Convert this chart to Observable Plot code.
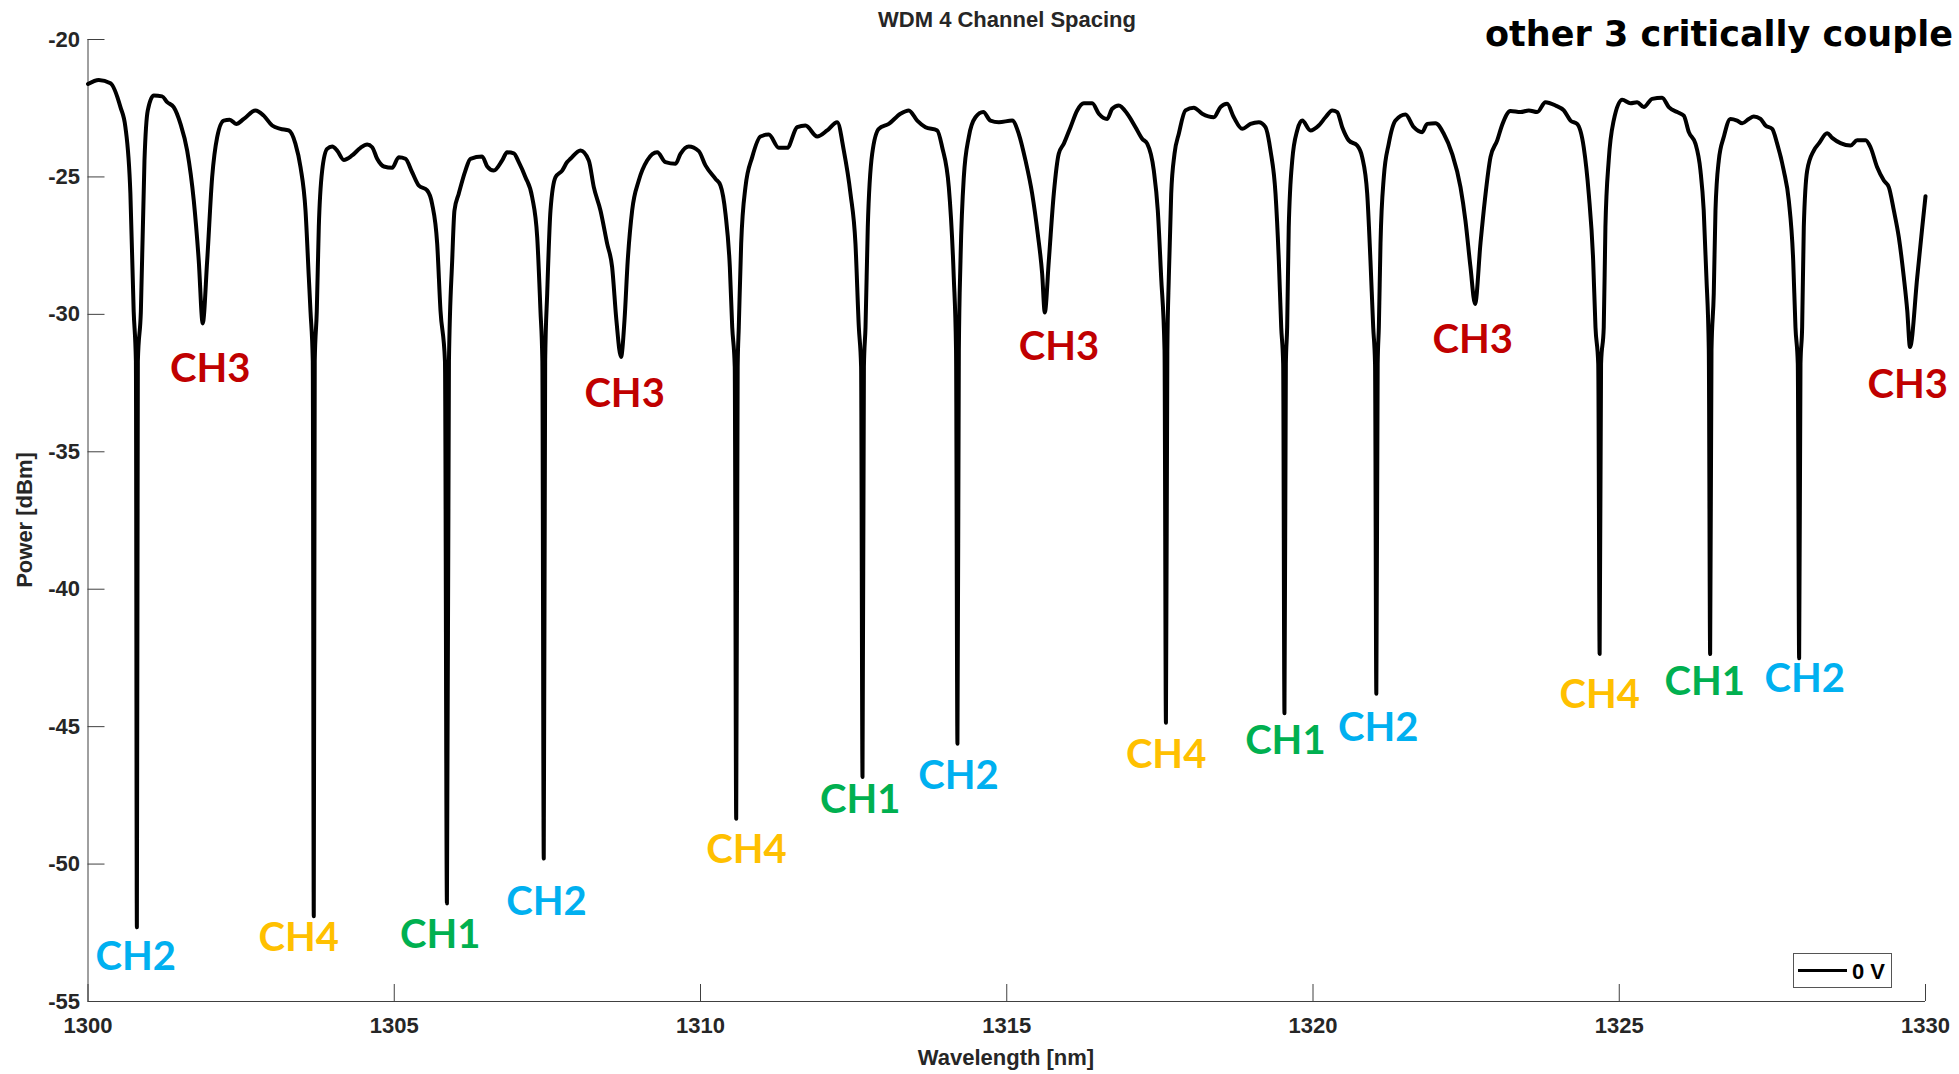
<!DOCTYPE html>
<html><head><meta charset="utf-8">
<script src="https://cdn.jsdelivr.net/npm/d3@7"></script>
<script src="https://cdn.jsdelivr.net/npm/@observablehq/plot@0.6"></script>
<style>
html,body{margin:0;padding:0;background:#fff;overflow:hidden;}
#wrap{position:relative;width:1959px;height:1074px;overflow:hidden;}
#chart{position:absolute;left:0;top:0;}
.t{position:absolute;white-space:nowrap;font-family:"Liberation Sans",Arial,sans-serif;font-weight:bold;color:#262626;line-height:1;}
#chart svg g[aria-label$="tick label"] text{font-size:22px;font-weight:bold;fill:#262626;}
</style></head><body>
<div id="wrap">
  <div id="chart"></div>
  <div class="t" style="left:1007px;top:8.5px;transform:translateX(-50%);font-size:22px;">WDM 4 Channel Spacing</div>
  <div class="t" style="left:1006px;top:1047px;transform:translateX(-50%);font-size:22px;">Wavelength [nm]</div>
  <div class="t" style="left:25px;top:520px;transform:translate(-50%,-50%) rotate(-90deg);font-size:22px;">Power [dBm]</div>
  <div class="t" style="left:1485px;top:17px;font-family:'DejaVu Sans',sans-serif;font-size:35px;color:#000;">other 3 critically couple</div>
  <div style="position:absolute;left:1793px;top:953px;width:97px;height:33px;border:1px solid #555;background:#fff;"></div>
  <div style="position:absolute;left:1798px;top:968.5px;width:49px;height:3.5px;background:#000;"></div>
  <div class="t" style="left:1852px;top:960.5px;font-size:22px;color:#000;">0 V</div>
</div>
<script>
// Measured transmission spectrum: [wavelength nm, power dBm]
const spectrum = [
[1300.000,-21.62],[1300.176,-21.47],[1300.367,-21.59],[1300.530,-22.46],[1300.611,-23.19],[1300.692,-25.60],[1300.746,-29.90],[1300.782,-31.70],[1300.798,-52.30],[1300.814,-31.70],[1300.863,-29.90],[1300.922,-24.40],[1300.976,-22.58],[1301.074,-22.04],[1301.210,-22.07],[1301.292,-22.28],[1301.399,-22.46],[1301.510,-23.07],[1301.619,-24.04],[1301.727,-25.86],[1301.808,-28.04],[1301.873,-30.33],[1301.946,-28.04],[1302.027,-25.01],[1302.109,-23.55],[1302.216,-22.95],[1302.314,-22.92],[1302.420,-23.07],[1302.544,-22.89],[1302.734,-22.58],[1302.869,-22.77],[1303.007,-23.13],[1303.142,-23.25],[1303.277,-23.31],[1303.386,-23.79],[1303.470,-24.65],[1303.551,-26.22],[1303.605,-28.65],[1303.633,-29.90],[1303.670,-31.70],[1303.686,-51.90],[1303.702,-31.70],[1303.735,-29.90],[1303.768,-26.83],[1303.823,-24.77],[1303.904,-23.98],[1303.987,-23.89],[1304.068,-24.04],[1304.176,-24.38],[1304.312,-24.22],[1304.449,-23.94],[1304.558,-23.82],[1304.640,-23.92],[1304.721,-24.34],[1304.830,-24.62],[1304.966,-24.67],[1305.074,-24.28],[1305.183,-24.34],[1305.292,-24.83],[1305.400,-25.31],[1305.537,-25.49],[1305.618,-25.98],[1305.701,-27.43],[1305.755,-29.86],[1305.828,-31.70],[1305.860,-51.43],[1305.893,-31.70],[1305.946,-28.04],[1305.983,-26.22],[1306.053,-25.61],[1306.162,-24.77],[1306.244,-24.34],[1306.435,-24.26],[1306.518,-24.62],[1306.625,-24.77],[1306.762,-24.40],[1306.843,-24.10],[1306.952,-24.14],[1307.033,-24.46],[1307.142,-25.01],[1307.252,-25.74],[1307.334,-27.19],[1307.387,-29.86],[1307.418,-31.70],[1307.441,-49.80],[1307.464,-31.70],[1307.497,-29.25],[1307.551,-26.22],[1307.633,-25.01],[1307.742,-24.77],[1307.823,-24.46],[1307.877,-24.34],[1308.040,-24.04],[1308.176,-24.40],[1308.258,-25.37],[1308.367,-26.22],[1308.476,-27.43],[1308.557,-28.28],[1308.627,-30.22],[1308.702,-31.55],[1308.759,-30.22],[1308.812,-28.04],[1308.884,-26.22],[1308.992,-25.13],[1309.129,-24.40],[1309.293,-24.10],[1309.428,-24.46],[1309.592,-24.52],[1309.673,-24.16],[1309.808,-23.89],[1309.972,-24.06],[1310.081,-24.58],[1310.245,-25.07],[1310.326,-25.31],[1310.408,-26.34],[1310.479,-28.28],[1310.518,-30.47],[1310.559,-31.90],[1310.583,-48.35],[1310.607,-31.90],[1310.625,-30.47],[1310.664,-27.43],[1310.734,-25.37],[1310.844,-24.28],[1310.979,-23.53],[1311.115,-23.46],[1311.278,-23.94],[1311.415,-23.94],[1311.579,-23.19],[1311.714,-23.13],[1311.905,-23.53],[1312.068,-23.31],[1312.232,-23.01],[1312.340,-24.04],[1312.449,-25.61],[1312.530,-27.43],[1312.585,-30.47],[1312.622,-31.90],[1312.645,-46.83],[1312.668,-31.90],[1312.694,-30.47],[1312.731,-26.83],[1312.803,-24.16],[1312.911,-23.25],[1313.074,-23.07],[1313.265,-22.70],[1313.401,-22.58],[1313.538,-22.95],[1313.673,-23.19],[1313.865,-23.31],[1313.946,-23.92],[1314.054,-25.37],[1314.135,-28.65],[1314.172,-31.30],[1314.195,-45.62],[1314.218,-31.30],[1314.245,-28.04],[1314.299,-25.01],[1314.380,-23.55],[1314.489,-22.83],[1314.616,-22.64],[1314.734,-22.95],[1314.871,-23.01],[1315.089,-22.95],[1315.196,-23.43],[1315.306,-24.40],[1315.415,-25.61],[1315.506,-27.07],[1315.578,-28.52],[1315.621,-29.93],[1315.687,-28.04],[1315.768,-25.61],[1315.849,-24.16],[1315.932,-23.79],[1316.041,-23.19],[1316.150,-22.58],[1316.258,-22.32],[1316.395,-22.32],[1316.503,-22.70],[1316.640,-22.89],[1316.722,-22.52],[1316.829,-22.40],[1316.967,-22.70],[1317.102,-23.19],[1317.211,-23.61],[1317.293,-23.79],[1317.401,-24.77],[1317.466,-26.22],[1317.521,-28.65],[1317.576,-31.30],[1317.599,-44.86],[1317.622,-31.30],[1317.646,-28.65],[1317.685,-25.61],[1317.739,-24.16],[1317.809,-23.43],[1317.918,-22.58],[1318.054,-22.48],[1318.191,-22.70],[1318.380,-22.83],[1318.489,-22.46],[1318.598,-22.34],[1318.707,-22.83],[1318.844,-23.25],[1318.980,-23.07],[1319.115,-23.01],[1319.224,-23.19],[1319.306,-24.04],[1319.388,-25.61],[1319.442,-28.04],[1319.481,-30.47],[1319.513,-31.80],[1319.534,-44.51],[1319.557,-31.80],[1319.578,-30.47],[1319.604,-26.83],[1319.661,-24.40],[1319.742,-23.31],[1319.823,-22.95],[1319.959,-23.31],[1320.094,-23.13],[1320.204,-22.83],[1320.314,-22.58],[1320.395,-22.64],[1320.477,-23.19],[1320.584,-23.67],[1320.722,-23.86],[1320.803,-24.28],[1320.885,-25.61],[1320.938,-28.04],[1320.983,-30.47],[1321.013,-31.80],[1321.034,-43.80],[1321.056,-31.80],[1321.075,-30.47],[1321.102,-27.43],[1321.156,-25.01],[1321.237,-23.79],[1321.347,-22.95],[1321.510,-22.73],[1321.646,-23.19],[1321.782,-23.37],[1321.864,-23.07],[1322.000,-23.05],[1322.135,-23.43],[1322.272,-24.16],[1322.408,-25.37],[1322.489,-26.59],[1322.571,-28.28],[1322.646,-29.62],[1322.735,-27.40],[1322.808,-25.80],[1322.898,-24.28],[1323.008,-23.67],[1323.089,-23.10],[1323.224,-22.60],[1323.388,-22.64],[1323.523,-22.58],[1323.660,-22.64],[1323.796,-22.28],[1323.958,-22.40],[1324.095,-22.58],[1324.204,-22.95],[1324.312,-23.07],[1324.420,-23.92],[1324.502,-25.61],[1324.574,-28.04],[1324.612,-30.47],[1324.657,-31.80],[1324.680,-42.36],[1324.703,-31.80],[1324.747,-30.47],[1324.774,-26.83],[1324.828,-24.40],[1324.909,-22.95],[1325.048,-22.19],[1325.183,-22.32],[1325.292,-22.28],[1325.401,-22.46],[1325.537,-22.16],[1325.700,-22.12],[1325.809,-22.46],[1325.946,-22.64],[1326.054,-22.77],[1326.136,-23.37],[1326.244,-23.79],[1326.326,-24.77],[1326.379,-26.22],[1326.423,-28.65],[1326.462,-31.30],[1326.484,-42.36],[1326.506,-31.30],[1326.543,-29.25],[1326.571,-26.22],[1326.625,-24.40],[1326.706,-23.55],[1326.815,-22.89],[1326.924,-22.95],[1327.007,-23.05],[1327.115,-22.89],[1327.196,-22.80],[1327.306,-22.89],[1327.388,-23.13],[1327.497,-23.25],[1327.578,-23.79],[1327.686,-24.77],[1327.768,-25.86],[1327.840,-28.04],[1327.877,-30.47],[1327.915,-31.80],[1327.937,-42.51],[1327.959,-31.80],[1327.986,-30.47],[1328.013,-26.83],[1328.068,-24.77],[1328.176,-24.04],[1328.257,-23.79],[1328.395,-23.41],[1328.476,-23.58],[1328.612,-23.77],[1328.775,-23.86],[1328.884,-23.67],[1329.021,-23.67],[1329.102,-23.92],[1329.211,-24.65],[1329.320,-25.13],[1329.401,-25.37],[1329.483,-26.22],[1329.564,-27.19],[1329.646,-28.65],[1329.702,-29.86],[1329.747,-31.19],[1329.865,-28.65],[1329.947,-26.83],[1330.000,-25.70]
];

// Resonance annotations
const labelChannel = ["CH2","CH3","CH4","CH1","CH2","CH3","CH4","CH1","CH2","CH3","CH4","CH1","CH2","CH3","CH4","CH1","CH2","CH3"];
const labelWavelength = [1300.780,1301.997,1303.440,1305.750,1307.486,1308.761,1310.751,1312.609,1314.213,1315.854,1317.602,1319.549,1321.065,1322.609,1324.682,1326.396,1328.029,1329.709];
const labelPower = [-53.40,-31.98,-52.68,-52.57,-51.38,-32.89,-49.49,-47.67,-46.79,-31.19,-46.03,-45.54,-45.04,-30.95,-43.87,-43.39,-43.27,-32.59];

const channels = ["CH1","CH2","CH3","CH4"];
const channelColors = ["#00b050","#00b0f0","#c00000","#ffc000"];

const xTicks = [1300,1305,1310,1315,1320,1325,1330];
const yTicks = [-20,-25,-30,-35,-40,-45,-50,-55];

const labels = labelChannel.map((c, i) => ({channel: c, wavelength: labelWavelength[i], power: labelPower[i]}));

const W = 1959, H = 1074, mL = 87.5, mR = 34, mT = 39, mB = 73;
const frameW = W - mL - mR, frameH = H - mT - mB, tickLen = 17;
const axisColor = "#404040";

const chart = Plot.plot({
  width: W, height: H,
  marginLeft: mL, marginRight: mR, marginTop: mT, marginBottom: mB,
  style: {fontFamily: '"Liberation Sans", Arial, sans-serif', fontSize: "22px", fontWeight: "bold", color: "#262626", background: "white", overflow: "visible"},
  x: {domain: [1300, 1330]},
  y: {domain: [-55, -20]},
  color: {domain: channels, range: channelColors},
  marks: [
    Plot.axisX(xTicks, {tickSize: 0, tickPadding: 16, tickFormat: d => String(d), label: null, fontSize: 22, fontWeight: "bold"}),
    Plot.axisY(yTicks, {tickSize: 0, tickPadding: 8, tickFormat: d => String(d), label: null, fontSize: 22, fontWeight: "bold"}),
    Plot.ruleX(xTicks, {stroke: axisColor, strokeWidth: 1, insetTop: frameH - tickLen}),
    Plot.ruleY(yTicks, {stroke: axisColor, strokeWidth: 1, insetRight: frameW - tickLen}),
    Plot.ruleX([1300], {stroke: axisColor, strokeWidth: 1}),
    Plot.ruleY([-55], {stroke: axisColor, strokeWidth: 1}),
    Plot.line(spectrum, {x: d => d[0], y: d => d[1], stroke: "black", strokeWidth: 4, strokeLinejoin: "round", curve: "monotone-x"}),
    Plot.text(labels, {x: "wavelength", y: "power", text: "channel", fill: "channel", fontSize: 40, fontWeight: "bold", fontFamily: "Lato, 'Open Sans', sans-serif"})
  ]
});
document.getElementById("chart").appendChild(chart);
</script>
</body></html>
